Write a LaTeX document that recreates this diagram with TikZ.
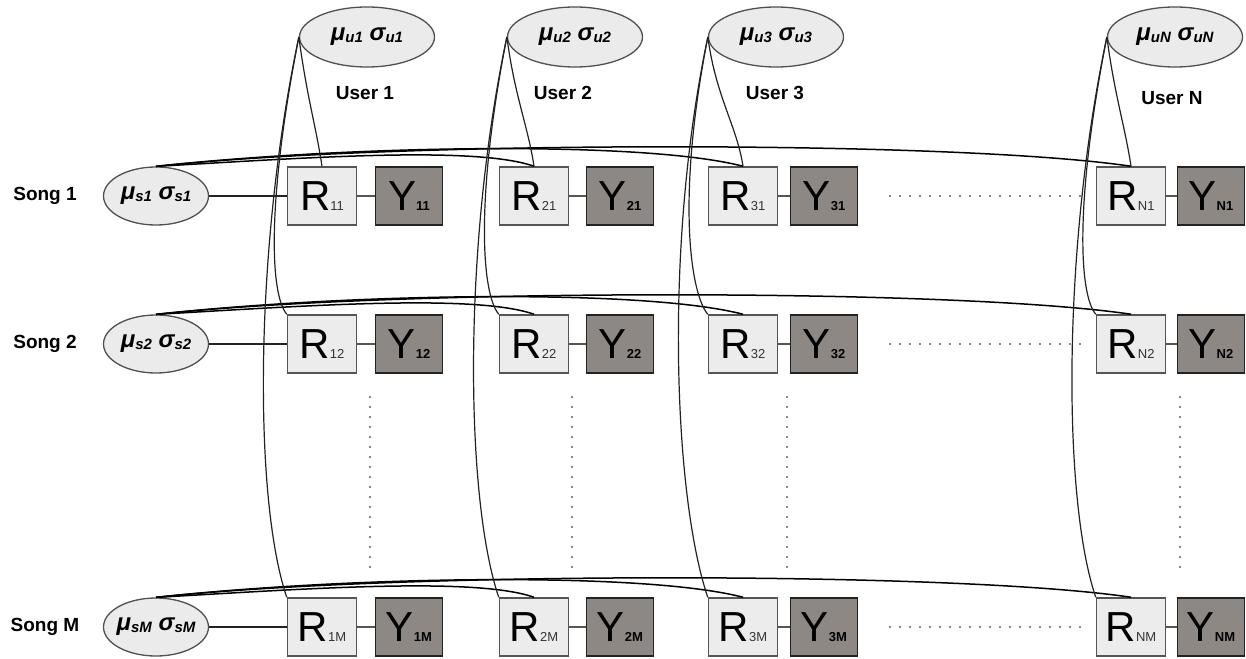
\documentclass[tikz,border=0pt]{standalone}
\usepackage{fontspec}
\setmainfont{Liberation Sans}
\usetikzlibrary{shapes.geometric,calc}
\definecolor{rfill}{HTML}{ECECEC}
\definecolor{rdraw}{HTML}{555555}
\definecolor{yfill}{HTML}{8E8884}
\definecolor{ydraw}{HTML}{222222}
\definecolor{efill}{HTML}{EBEBEB}
\definecolor{edraw}{HTML}{505050}
\definecolor{cline}{HTML}{222222}
\definecolor{dotc}{HTML}{606060}
\definecolor{rsubc}{HTML}{333333}
\newcommand\musig[1]{{\bfseries\itshape\fontsize{24}{24}\selectfont μ\raisebox{-2pt}{\fontsize{15}{15}\selectfont #1}\ σ\raisebox{-2pt}{\fontsize{15}{15}\selectfont #1}}}
\newcommand\rsubs[1]{{\fontsize{13}{13}\selectfont\color{rsubc}#1}}
\newcommand\ysubs[1]{{\fontsize{13}{13}\selectfont\bfseries #1}}
\begin{document}
\begin{tikzpicture}[x=1pt,y=-1pt,
  rbox/.style={draw=rdraw, fill=rfill, line width=1.5pt, minimum width=69pt, minimum height=58pt, inner sep=0pt, font=\fontsize{42}{42}\selectfont},
  ybox/.style={draw=ydraw, fill=yfill, line width=1.8pt, minimum width=67pt, minimum height=58pt, inner sep=0pt, font=\fontsize{42}{42}\selectfont},
  uell/.style={ellipse, draw=edraw, fill=efill, line width=1.3pt, minimum width=135pt, minimum height=60pt, inner sep=0pt},
  sell/.style={ellipse, draw=edraw, fill=efill, line width=1.3pt, minimum width=105pt, minimum height=58pt, inner sep=0pt},
  lab/.style={font=\fontsize{19}{19}\selectfont\bfseries, inner sep=0pt},
  ryline/.style={draw=rdraw, line width=1.5pt},
  sline/.style={draw=cline, line width=1.2pt},
  scurve/.style={draw=black, line width=1.5pt},
  ucurve/.style={draw=cline, line width=1.2pt},
  dotline/.style={draw=dotc, line width=2.3pt, line cap=round, dash pattern=on 0pt off 10pt}
]
\useasboundingbox (0,0) rectangle (1246,658);

% R and Y boxes
\foreach \col/\rx/\yx in {1/322/409, 2/534/620, 3/743/824, N/1131/1211} {
  \foreach \row/\ry in {1/196, 2/344, M/627} {
    \node[rbox] (R\col\row) at (\rx,\ry) {R\rsubs{\col\row}\hspace{12pt}};
    \node[ybox] (Y\col\row) at (\yx,\ry) {Y\ysubs{\col\row}\hspace{16pt}};
    \draw[ryline] (R\col\row) -- (Y\col\row);
  }
}

% Songs
\foreach \row/\ry in {1/196, 2/344, M/627} {
  \node[sell, label={center:\musig{s\row}}] (s\row) at (156,\ry) {};
  \node[lab] (sl\row) at (45,\ry) {Song \row};
  \draw[sline] (s\row) -- (R1\row);
  \draw[scurve] (s\row.north) .. controls +(143,-8) and +(-60,-21) .. (R2\row.north);
  \draw[scurve] (s\row.north) .. controls +(193,-21) and +(-100,-26) .. (R3\row.north);
  \draw[scurve] (s\row.north) .. controls +(243,-26) and +(-175,-26) .. (RN\row.north);
}

% Users
\foreach \col/\ux/\lx/\ly in {1/367/365/93, 2/575/563/93, 3/776/775/93, N/1175/1172/98} {
  \node[uell, label={center:\musig{u\col}}] (u\col) at (\ux,37) {};
  \node[lab] (ul\col) at (\lx,\ly) {User \col};
  \draw[ucurve] (u\col.west) .. controls +(8,60) and +(-6,-40) .. (R\col 1.north);
  \draw[ucurve] (u\col.west) .. controls +(-32,163) and +(-17,-20) .. (R\col 2.north west);
  \draw[ucurve] (u\col.west) .. controls +(-45,213) and +(-33,-97) .. (R\col M.north west);
}

% dotted continuation marks
\foreach \ry in {196, 344, 627} {
  \draw[dotline] (890,\ry) -- (1085,\ry);
}
\foreach \dx in {370, 572, 787, 1180} {
  \draw[dotline] (\dx,397) -- (\dx,575);
}
\end{tikzpicture}
\end{document}
